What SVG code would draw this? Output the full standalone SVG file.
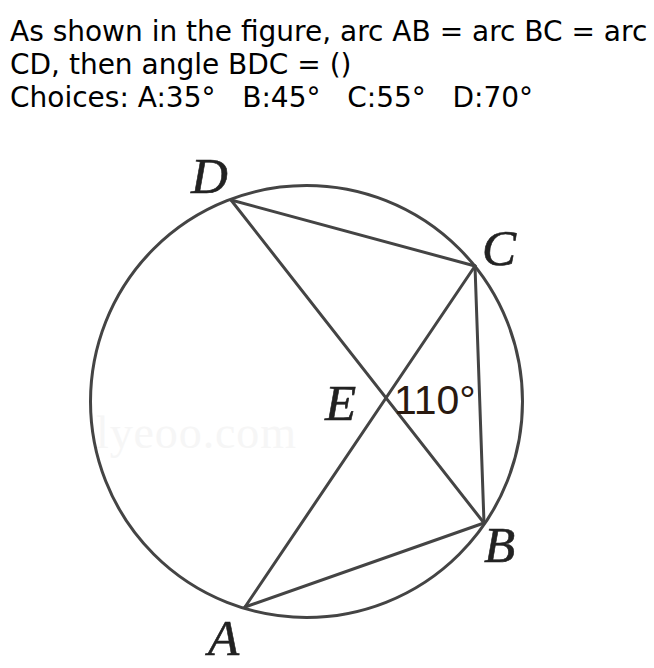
<svg xmlns="http://www.w3.org/2000/svg" width="654" height="668" viewBox="0 0 654 668">
<style>
.q{font-family:"DejaVu Sans",sans-serif;font-size:28px;fill:#000;white-space:pre}
.lbl{font-family:"Liberation Serif",serif;font-style:italic;font-size:51px;fill:#222;stroke:#222;stroke-width:0.6}
.ln{stroke:#444;stroke-width:3;fill:none;stroke-linecap:round}
</style>
<rect width="654" height="668" fill="#fff"/>
<g id="question">
<text class="q" x="10" y="41">As shown in the figure, arc AB = arc BC = arc</text>
<text class="q" x="10" y="74">CD, then angle BDC = ()</text>
<text class="q" x="10" y="107" xml:space="preserve">Choices: A:35°   B:45°   C:55°   D:70°</text>
</g>
<text x="96" y="448" font-family="Liberation Serif,serif" font-size="46" fill="#f6f6f6" textLength="200">lyeoo.com</text>
<g id="circle"><circle cx="306.5" cy="401.5" r="216" class="ln"/></g>
<g id="connectors">
<line class="ln" x1="231" y1="200" x2="475" y2="266"/>
<line class="ln" x1="475" y1="266" x2="484" y2="523"/>
<line class="ln" x1="484" y1="523" x2="245" y2="607"/>
<line class="ln" x1="231" y1="200" x2="484" y2="523"/>
<line class="ln" x1="245" y1="607" x2="475" y2="266"/>
</g>
<g id="D"><text class="lbl" x="191" y="193">D</text></g>
<g id="C"><text class="lbl" x="482" y="265">C</text></g>
<g id="B"><text class="lbl" x="484" y="562">B</text></g>
<g id="A"><text class="lbl" x="208" y="655">A</text></g>
<g id="E"><text class="lbl" x="325" y="420">E</text></g>
<g id="angle"><text x="394" y="414" font-family="Liberation Sans,Arial,sans-serif" font-size="41" fill="#2a1a10">110°</text></g>
</svg>
